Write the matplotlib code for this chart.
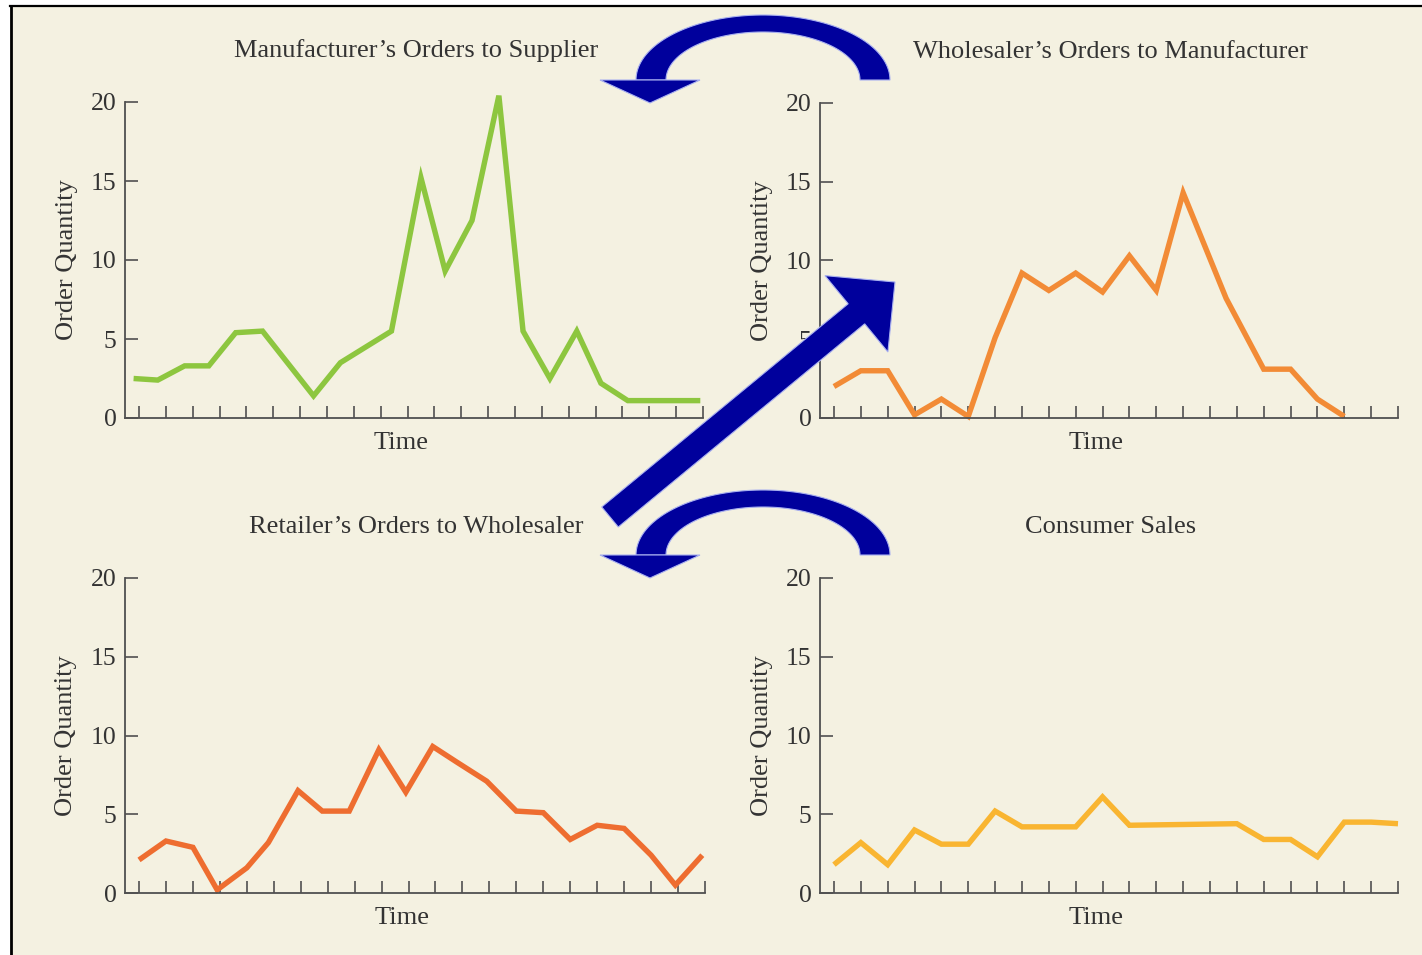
import matplotlib
matplotlib.use("Agg")
import matplotlib.pyplot as plt
import numpy as np
from matplotlib.patches import Polygon, Rectangle, FancyArrow

plt.rcParams['font.family'] = ['Liberation Serif', 'DejaVu Serif']

# --- data (x in tick units, 1..22) ---
mfr_time = [0.8, 1.7, 2.7, 3.6, 4.6, 5.6, 7.5, 8.5, 10.4, 11.5, 12.4, 13.4, 14.4, 15.3, 16.3, 17.3, 18.2, 19.2, 21.9]
mfr_orders = [2.5, 2.4, 3.3, 3.3, 5.4, 5.5, 1.4, 3.5, 5.5, 15.2, 9.3, 12.5, 20.4, 5.5, 2.5, 5.5, 2.2, 1.1, 1.1]

whs_time = [1, 2, 3, 4, 5, 6, 7, 8, 9, 10, 11, 12, 13, 14, 15.6, 17, 18, 19, 20]
whs_orders = [2.0, 3.0, 3.0, 0.2, 1.2, 0.1, 5.1, 9.2, 8.1, 9.2, 8.0, 10.3, 8.1, 14.3, 7.6, 3.1, 3.1, 1.2, 0.1]

ret_time = [1, 2, 3, 3.9, 5, 5.8, 6.9, 7.8, 8.8, 9.9, 10.9, 11.9, 12.8, 13.9, 15, 16, 17, 18, 19, 20, 20.9, 21.9]
ret_orders = [2.1, 3.3, 2.9, 0.2, 1.6, 3.2, 6.5, 5.2, 5.2, 9.1, 6.4, 9.3, 8.3, 7.1, 5.2, 5.1, 3.4, 4.3, 4.1, 2.4, 0.5, 2.4]

sales_time = [1, 2, 3, 4, 5, 6, 7, 8, 9, 10, 11, 12, 16, 17, 18, 19, 20, 21, 22]
sales = [1.8, 3.2, 1.8, 4.0, 3.1, 3.1, 5.2, 4.2, 4.2, 4.2, 6.1, 4.3, 4.4, 3.4, 3.4, 2.3, 4.5, 4.5, 4.4]

titles = ["Manufacturer\u2019s Orders to Supplier",
          "Wholesaler\u2019s Orders to Manufacturer",
          "Retailer\u2019s Orders to Wholesaler",
          "Consumer Sales"]
y_ticks = [0, 5, 10, 15, 20]
n_ticks = 22

BG = '#f4f1e1'
AXC = '#505050'
TXT = '#333333'
NAVY = '#00009c'

W, H = 1422, 955
fig = plt.figure(figsize=(W / 100, H / 100), dpi=100, facecolor=BG)

# panel boxes in pixels: left, top(=20), right, bottom(=0)
boxes = [(125, 102, 703, 418), (820, 103, 1398, 418),
         (125, 578, 705, 893), (820, 578, 1398, 893)]
series = [(mfr_time, mfr_orders, '#8dc63f'),
          (whs_time, whs_orders, '#f28b36'),
          (ret_time, ret_orders, '#ee6d30'),
          (sales_time, sales, '#f9b531')]

for (l, t, r, b), (xs, ys, col), title in zip(boxes, series, titles):
    ax = fig.add_axes([l / W, 1 - b / H, (r - l) / W, (b - t) / H])
    ax.set_facecolor('none')
    ax.plot(xs, ys, color=col, lw=3.9, clip_on=False,
            solid_joinstyle='miter', solid_capstyle='butt')
    ax.set_xlim(0.48, n_ticks)
    ax.set_ylim(0, 20)
    ax.set_xticks(np.arange(1, n_ticks + 1))
    ax.set_xticklabels([])
    ax.set_yticks(y_ticks)
    ax.tick_params(axis='x', direction='in', length=9, width=1.2, color=AXC)
    ax.tick_params(axis='y', direction='in', length=9, width=1.2, color=AXC,
                   labelsize=18.5, labelcolor=TXT, pad=6)
    for s in ['top', 'right']:
        ax.spines[s].set_visible(False)
    for s in ['left', 'bottom']:
        ax.spines[s].set_color(AXC)
        ax.spines[s].set_linewidth(1.3)
    ax.set_xlabel('Time', fontsize=19, color=TXT)
    ax.xaxis.set_label_coords(0.478, -0.045)
    ax.set_ylabel('Order Quantity', fontsize=19, color=TXT)
    ax.yaxis.set_label_coords(-0.082, 0.5)
    ax.text(0.503, 1.142, title, transform=ax.transAxes, ha='center',
            va='baseline', fontsize=19, color=TXT)

# overlay in pixel coordinates for frame and arrows
ov = fig.add_axes([0, 0, 1, 1], zorder=10)
ov.set_xlim(0, W)
ov.set_ylim(H, 0)
ov.axis('off')
ov.patch.set_alpha(0)

ov.add_patch(Rectangle((0, 0), W, 6, facecolor='white', edgecolor='none'))
ov.add_patch(Rectangle((0, 0), 10, H, facecolor='white', edgecolor='none'))
ov.plot([10, W], [6, 6], color='black', lw=1.6)
ov.plot([11, 11], [6, H], color='black', lw=2.0)


def curved_arrow(cy):
    cx = 763
    th = np.linspace(0, np.pi, 80)
    outer = np.column_stack([cx + 127 * np.cos(th), cy - 65 * np.sin(th)])
    inner = np.column_stack([cx + 97 * np.cos(th[::-1]), cy - 48 * np.sin(th[::-1])])
    ov.add_patch(Polygon(np.vstack([outer, inner]), closed=True,
                         facecolor=NAVY, edgecolor='#a8b0f0', lw=0.8))
    ov.add_patch(Polygon([(600, cy), (700, cy), (650, cy + 23)], closed=True,
                         facecolor=NAVY, edgecolor='#a8b0f0', lw=0.8))


curved_arrow(80)
curved_arrow(555)

ov.add_patch(FancyArrow(610, 517, 285, -235, width=26, head_width=99,
                        head_length=50, length_includes_head=True,
                        facecolor=NAVY, edgecolor='#a8b0f0', lw=0.8))

fig.savefig('out.png', dpi=100, facecolor=BG)
